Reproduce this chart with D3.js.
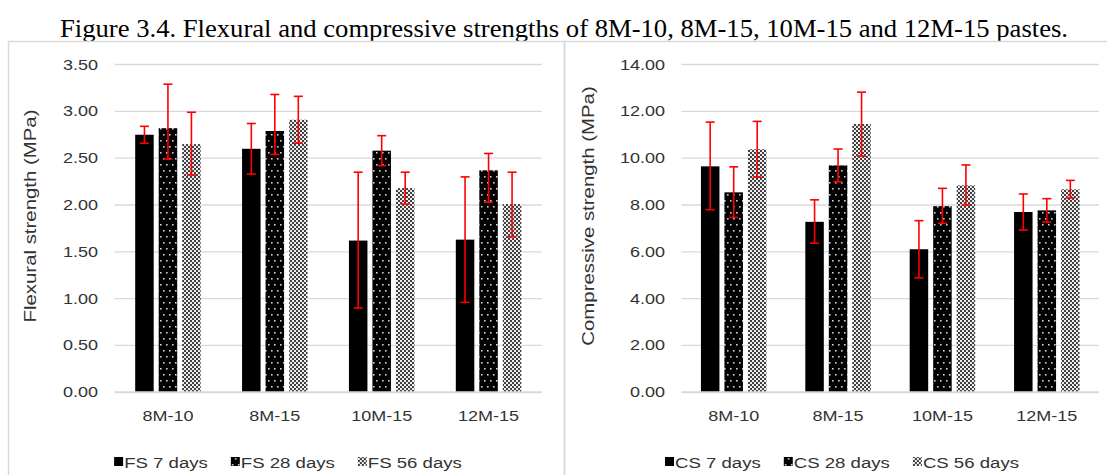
<!DOCTYPE html>
<html>
<head>
<meta charset="utf-8">
<script src="https://cdn.jsdelivr.net/npm/d3@7"></script>
<style>
    body { margin: 0; background: #fff; }
    svg { display: block; }
    text { font-family: "Liberation Sans", Arial, sans-serif; }
</style>
</head>
<body>
<svg id="fig"></svg>
<script>
var categories = ["8M-10", "8M-15", "10M-15", "12M-15"];
var seriesKeys = ["7 days", "28 days", "56 days"];

// flexural strength (MPa)
var fs7 = [2.75, 2.60, 1.62, 1.63];
var fs28 = [2.82, 2.79, 2.58, 2.37];
var fs56 = [2.65, 2.91, 2.18, 2.01];
var fs7ErrUp = [0.09, 0.27, 0.73, 0.67];
var fs7ErrDown = [0.09, 0.27, 0.72, 0.67];
var fs28ErrUp = [0.47, 0.39, 0.16, 0.18];
var fs28ErrDown = [0.33, 0.25, 0.16, 0.34];
var fs56ErrUp = [0.34, 0.25, 0.17, 0.34];
var fs56ErrDown = [0.33, 0.25, 0.17, 0.35];
var fsTicks = [0, 0.5, 1, 1.5, 2, 2.5, 3, 3.5];

// compressive strength (MPa)
var cs7 = [9.65, 7.28, 6.11, 7.70];
var cs28 = [8.54, 9.69, 7.95, 7.77];
var cs56 = [10.38, 11.46, 8.84, 8.67];
var cs7ErrUp = [1.89, 0.94, 1.22, 0.77];
var cs7ErrDown = [1.85, 0.91, 1.22, 0.77];
var cs28ErrUp = [1.09, 0.70, 0.76, 0.50];
var cs28ErrDown = [1.07, 0.70, 0.73, 0.50];
var cs56ErrUp = [1.19, 1.36, 0.87, 0.38];
var cs56ErrDown = [1.19, 1.37, 0.84, 0.37];
var csTicks = [0, 2, 4, 6, 8, 10, 12, 14];

var SX = 1.2; // text in the reference is set wider than Arial

var svg = d3.select("#fig").attr("width", 1107).attr("height", 475);

// fill patterns
var defs = svg.append("defs");
var dots = defs.append("pattern").attr("id", "dots")
    .attr("patternUnits", "userSpaceOnUse").attr("width", 6).attr("height", 12);
dots.append("rect").attr("width", 6).attr("height", 12).attr("fill", "#000");
dots.append("rect").attr("x", 1).attr("y", 2).attr("width", 1.6).attr("height", 1.6).attr("fill", "#d0d0d0");
dots.append("rect").attr("x", 4).attr("y", 8).attr("width", 1.6).attr("height", 1.6).attr("fill", "#d0d0d0");

var checks = defs.append("pattern").attr("id", "checks")
    .attr("patternUnits", "userSpaceOnUse").attr("width", 4).attr("height", 4);
checks.append("rect").attr("width", 4).attr("height", 4).attr("fill", "#404040");
checks.append("rect").attr("width", 2).attr("height", 2).attr("fill", "#eeeeee");
checks.append("rect").attr("x", 2).attr("y", 2).attr("width", 2).attr("height", 2).attr("fill", "#eeeeee");

var fills = ["#000", "url(#dots)", "url(#checks)"];

svg.append("text")
    .attr("x", 564).attr("y", 37)
    .attr("text-anchor", "middle")
    .attr("textLength", 1008)
    .attr("lengthAdjust", "spacingAndGlyphs")
    .style("font-family", "'Liberation Serif', 'Times New Roman', serif")
    .style("font-size", "25px")
    .attr("fill", "#000")
    .text("Figure 3.4. Flexural and compressive strengths of 8M-10, 8M-15, 10M-15 and 12M-15 pastes.");

// panel borders
svg.append("rect").attr("x", 8.5).attr("y", 41.5).attr("width", 556).attr("height", 440)
    .attr("fill", "none").attr("stroke", "#d9d9d9").attr("stroke-width", 1.5);
svg.append("rect").attr("x", 564.5).attr("y", 41.5).attr("width", 550).attr("height", 440)
    .attr("fill", "none").attr("stroke", "#d9d9d9").attr("stroke-width", 1.5);

function wide(x, y) {
    return "translate(" + x + "," + y + ") scale(" + SX + ",1)";
}

function drawPanel(opt) {
    var y = d3.scaleLinear().domain([0, opt.ticks[opt.ticks.length - 1]]).range([392.3, 64.5]);
    var x = d3.scaleBand().domain(categories).range([opt.x0, opt.x1]).padding(0);
    var inner = d3.scaleBand().domain(seriesKeys).range([-32.75, 32.75]).paddingInner(0.2128);

    var g = svg.append("g");

    g.selectAll(".grid")
        .data(opt.ticks.slice(1))
        .enter()
        .append("line")
        .attr("x1", opt.x0).attr("x2", opt.x1)
        .attr("y1", function (d) { return y(d) }).attr("y2", function (d) { return y(d) })
        .attr("stroke", "#d9d9d9").attr("stroke-width", 1.3);

    g.selectAll(".ylab")
        .data(opt.ticks)
        .enter()
        .append("text")
        .attr("transform", function (d) { return wide(opt.labelX, y(d) + 5) })
        .attr("text-anchor", "end")
        .style("font-size", "15px")
        .attr("fill", "#333")
        .text(function (d) { return d.toFixed(2) });

    var series = [
        { key: "7 days", vals: opt.s7, up: opt.e7u, down: opt.e7d },
        { key: "28 days", vals: opt.s28, up: opt.e28u, down: opt.e28d },
        { key: "56 days", vals: opt.s56, up: opt.e56u, down: opt.e56d }
    ];

    series.forEach(function (s, si) {
        var cx = function (i) { return x(categories[i]) + x.bandwidth() / 2 + inner(s.key) };
        g.selectAll(".bar" + si)
            .data(s.vals)
            .enter()
            .append("rect")
            .attr("x", function (d, i) { return cx(i) })
            .attr("y", function (d) { return y(d) })
            .attr("width", inner.bandwidth())
            .attr("height", function (d) { return y(0) - y(d) })
            .attr("fill", fills[si]);
    });

    // axis line
    g.append("line")
        .attr("x1", opt.x0).attr("x2", opt.x1)
        .attr("y1", y(0)).attr("y2", y(0))
        .attr("stroke", "#d9d9d9").attr("stroke-width", 2);

    series.forEach(function (s, si) {
        s.vals.forEach(function (v, i) {
            var mx = x(categories[i]) + x.bandwidth() / 2 + inner(s.key) + inner.bandwidth() / 2;
            var top = y(v + s.up[i]);
            var bot = y(v - s.down[i]);
            var eg = g.append("g").attr("stroke", "#ff0000").attr("stroke-width", 1.6);
            eg.append("line").attr("x1", mx).attr("x2", mx).attr("y1", top).attr("y2", bot);
            eg.append("line").attr("x1", mx - 4.5).attr("x2", mx + 4.5).attr("y1", top).attr("y2", top);
            eg.append("line").attr("x1", mx - 4.5).attr("x2", mx + 4.5).attr("y1", bot).attr("y2", bot);
        });
    });

    g.selectAll(".xlab")
        .data(categories)
        .enter()
        .append("text")
        .attr("transform", function (d) { return wide(x(d) + x.bandwidth() / 2, 421) })
        .attr("text-anchor", "middle")
        .style("font-size", "15px")
        .attr("fill", "#333")
        .text(function (d) { return d });

    g.append("text")
        .attr("transform", "translate(" + opt.titleX + "," + 216 + ") rotate(-90) scale(" + SX + ",1)")
        .attr("text-anchor", "middle")
        .style("font-size", "17px")
        .attr("fill", "#333")
        .text(opt.title);

    // legend, centred in the panel
    var leg = g.append("g");
    var items = leg.selectAll(".leg")
        .data(seriesKeys)
        .enter()
        .append("g");
    items.append("rect").attr("x", 0).attr("y", -5).attr("width", 9).attr("height", 9)
        .attr("fill", function (d, i) { return fills[i] });
    items.append("text").attr("transform", wide(10, 5.5))
        .style("font-size", "15.5px").attr("fill", "#333")
        .text(function (d) { return opt.prefix + " " + d });
    var pos = 0;
    items.each(function () {
        var w = 10 + this.querySelector("text").getComputedTextLength() * SX;
        d3.select(this).attr("transform", "translate(" + pos + ",0)");
        pos += w + 23;
    });
    var total = pos - 23;
    leg.attr("transform", "translate(" + (opt.panelMid - total / 2) + "," + opt.legY + ")");
}

drawPanel({
    x0: 114.5, x1: 542, labelX: 98, titleX: 36, panelMid: 288, legY: 462,
    ticks: fsTicks, title: "Flexural strength (MPa)", prefix: "FS",
    s7: fs7, s28: fs28, s56: fs56,
    e7u: fs7ErrUp, e7d: fs7ErrDown, e28u: fs28ErrUp, e28d: fs28ErrDown, e56u: fs56ErrUp, e56d: fs56ErrDown
});

drawPanel({
    x0: 681.5, x1: 1099, labelX: 665, titleX: 594, panelMid: 842, legY: 462,
    ticks: csTicks, title: "Compressive strength (MPa)", prefix: "CS",
    s7: cs7, s28: cs28, s56: cs56,
    e7u: cs7ErrUp, e7d: cs7ErrDown, e28u: cs28ErrUp, e28d: cs28ErrDown, e56u: cs56ErrUp, e56d: cs56ErrDown
});
</script>
</body>
</html>
